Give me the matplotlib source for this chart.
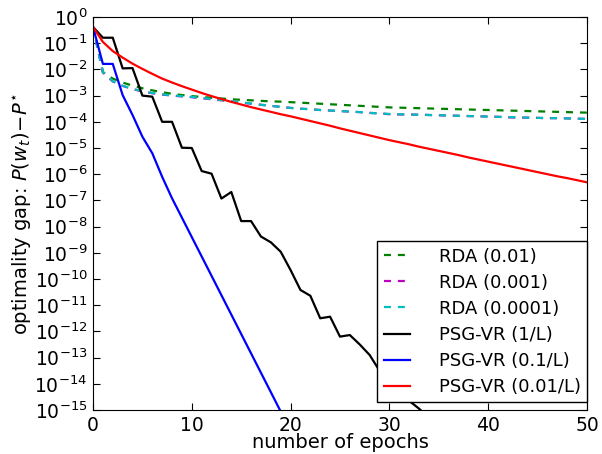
import numpy as np
import matplotlib
matplotlib.use('Agg')
import matplotlib.pyplot as plt
from matplotlib.ticker import LogLocator, NullLocator

plt.rcParams['axes.unicode_minus'] = False
plt.rcParams['lines.scale_dashes'] = False

# log10 of the optimality gap, one value per epoch
epochs = np.arange(51)

rda_001 = [-0.38, -2.1, -2.35, -2.5, -2.62, -2.72, -2.8, -2.87, -2.93, -2.98,
           -3.02, -3.05, -3.08, -3.11, -3.14, -3.16, -3.18, -3.2, -3.22, -3.23,
           -3.25, -3.27, -3.29, -3.31, -3.33, -3.35, -3.37, -3.39, -3.41, -3.43,
           -3.45, -3.46, -3.47, -3.48, -3.49, -3.5, -3.51, -3.52, -3.53, -3.54,
           -3.55, -3.56, -3.57, -3.58, -3.59, -3.6, -3.61, -3.62, -3.63, -3.64,
           -3.65]
rda_0001 = [-0.38, -2.12, -2.46, -2.63, -2.75, -2.84, -2.91, -2.96, -3.0, -3.03,
            -3.06, -3.1, -3.14, -3.18, -3.22, -3.27, -3.31, -3.35, -3.39, -3.43,
            -3.47, -3.5, -3.52, -3.55, -3.57, -3.59, -3.61, -3.63, -3.66, -3.68,
            -3.71, -3.72, -3.72, -3.73, -3.74, -3.75, -3.76, -3.77, -3.78, -3.79,
            -3.8, -3.81, -3.83, -3.84, -3.84, -3.85, -3.86, -3.86, -3.87, -3.88,
            -3.89]
rda_00001 = [-0.38, -2.1, -2.45, -2.62, -2.74, -2.83, -2.9, -2.95, -2.99, -3.02,
             -3.05, -3.09, -3.13, -3.17, -3.21, -3.26, -3.3, -3.35, -3.39, -3.43,
             -3.47, -3.5, -3.52, -3.55, -3.57, -3.59, -3.61, -3.63, -3.66, -3.68,
             -3.7, -3.71, -3.72, -3.73, -3.74, -3.75, -3.76, -3.77, -3.78, -3.79,
             -3.8, -3.81, -3.82, -3.83, -3.84, -3.85, -3.86, -3.86, -3.87, -3.88,
             -3.89]
psg_1 = [-0.38, -0.79, -0.79, -1.96, -1.95, -3.0, -3.04, -4.0, -4.0, -4.99,
         -5.0, -5.88, -5.98, -6.93, -6.68, -7.79, -7.79, -8.38, -8.6, -8.96,
         -9.66, -10.42, -10.64, -11.5, -11.44, -12.2, -12.14, -12.5, -12.9, -13.5,
         -13.95, -14.3, -14.65, -14.95, -15.3, -15.6]
psg_01 = [-0.38, -1.79, -1.79, -2.98, -3.74, -4.57, -5.2, -6.1, -6.92, -7.66,
          -8.4, -9.14, -9.88, -10.62, -11.36, -12.1, -12.84, -13.58, -14.32, -15.06,
          -15.8]
psg_001 = [-0.38, -0.95, -1.3, -1.55, -1.78, -1.98, -2.17, -2.35, -2.5, -2.64,
           -2.77, -2.9, -3.02, -3.13, -3.24, -3.34, -3.44, -3.53, -3.62, -3.71,
           -3.79, -3.88, -3.97, -4.06, -4.15, -4.25, -4.34, -4.43, -4.52, -4.61,
           -4.7, -4.78, -4.86, -4.95, -5.03, -5.11, -5.19, -5.27, -5.36, -5.44,
           -5.52, -5.6, -5.68, -5.76, -5.84, -5.92, -6.0, -6.08, -6.15, -6.23,
           -6.31]

fig = plt.figure(figsize=(6.02, 4.54), dpi=100)
ax = fig.add_axes([0.1545, 0.097, 0.8205, 0.8655])

def gap(v):
    return 10.0 ** np.array(v)

ax.semilogy(epochs[:len(rda_001)], gap(rda_001), color=(0, 0.5, 0), lw=1.6, dashes=(5, 5), label='RDA (0.01)')
ax.semilogy(epochs[:len(rda_0001)], gap(rda_0001), color=(0.75, 0, 0.75), lw=1.6, dashes=(5, 5), label='RDA (0.001)')
ax.semilogy(epochs[:len(rda_00001)], gap(rda_00001), color=(0, 0.75, 0.75), lw=1.6, dashes=(5, 5), label='RDA (0.0001)')
ax.semilogy(epochs[:len(psg_1)], gap(psg_1), color='k', lw=1.6, label='PSG-VR (1/L)')
ax.semilogy(epochs[:len(psg_01)], gap(psg_01), color='b', lw=1.6, label='PSG-VR (0.1/L)')
ax.semilogy(epochs[:len(psg_001)], gap(psg_001), color='r', lw=1.6, label='PSG-VR (0.01/L)')

ax.set_xlim(0, 50)
ax.set_ylim(1e-15, 1)
ax.yaxis.set_major_locator(LogLocator(base=10, numticks=20))
ax.yaxis.set_minor_locator(NullLocator())
ax.set_xticks([0, 10, 20, 30, 40, 50])
ax.tick_params(direction='in', top=True, right=True, length=5, labelsize=13.5, pad=4)

ax.set_xlabel('number of epochs', fontsize=14, labelpad=-1)
ax.set_ylabel(r'optimality gap: $P(w_t)\!-\!P^{\star}$', fontsize=14, labelpad=1)

leg = ax.legend(loc='lower right', bbox_to_anchor=(1.0, 0.019), borderaxespad=0,
                fontsize=13, fancybox=False, framealpha=1, edgecolor='k',
                handlelength=1.45, handletextpad=1.6, labelspacing=0.45,
                borderpad=0.35)
leg.get_frame().set_linewidth(1.0)

fig.savefig('out.png', dpi=100)
